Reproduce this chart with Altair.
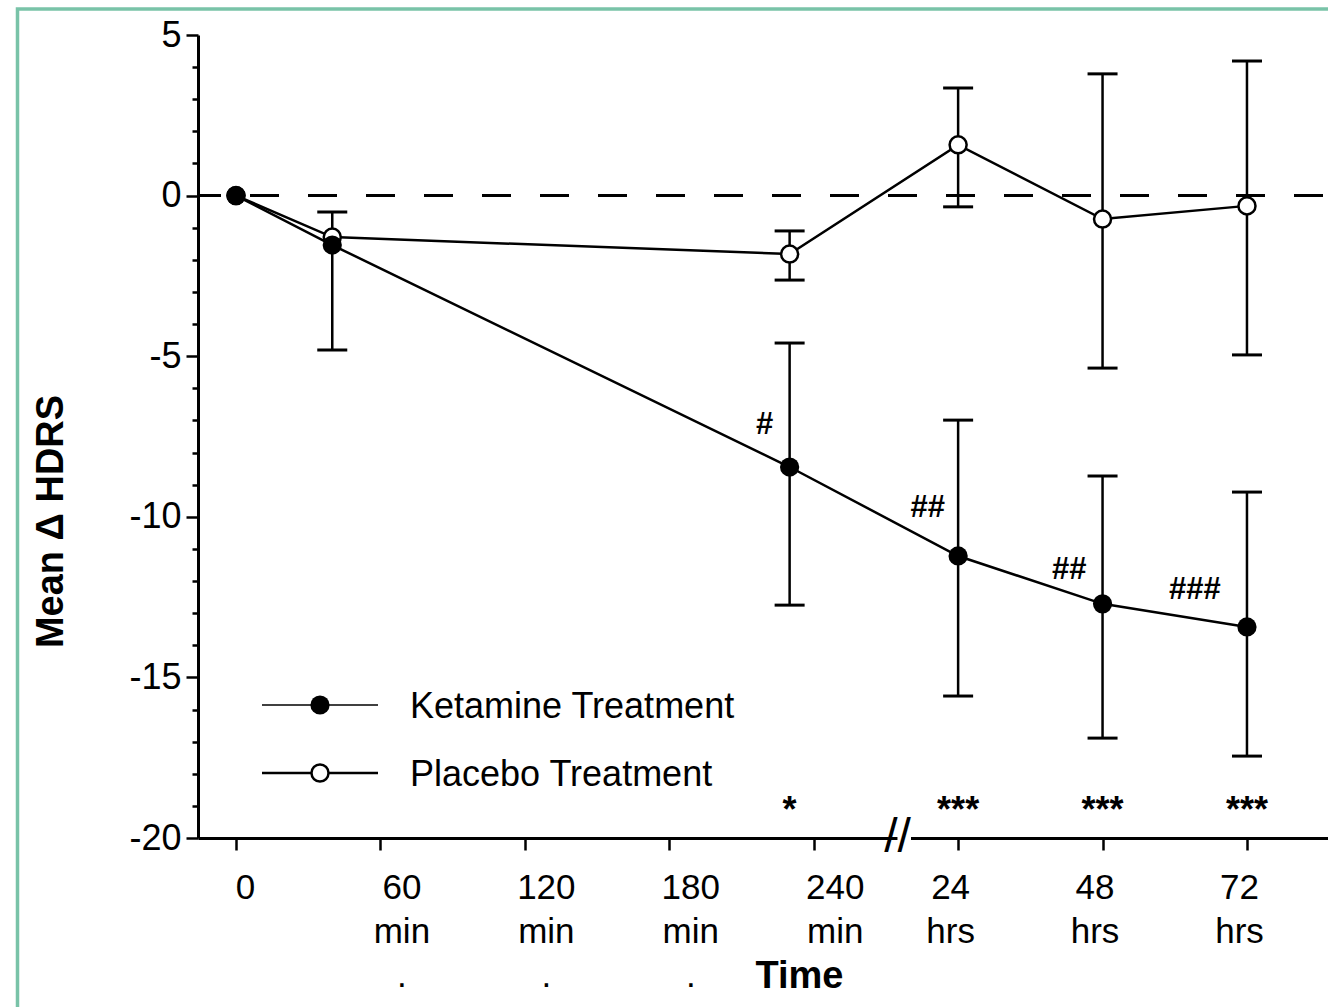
import altair as alt
import pandas as pd

FONT = "Liberation Sans"

# ---- data -------------------------------------------------------------
series = ["Ketamine Treatment", "Placebo Treatment"]
time_labels = ["0", "40 min", "230 min", "24 hrs", "48 hrs", "72 hrs"]
# position on the time axis: one step per 60 min before the break, one step per 24 hrs after it
time_pos = [0, 40 / 60, 230 / 60, 5, 6, 7]

ketamine_mean = [0.0, -1.54, -8.45, -11.22, -12.71, -13.43]
ketamine_upper = [None, None, -4.59, -6.99, -8.73, -9.23]
ketamine_lower = [None, -4.81, -12.75, -15.58, -16.89, -17.45]

placebo_mean = [0.0, -1.29, -1.82, 1.58, -0.73, -0.32]
placebo_upper = [None, -0.51, -1.10, 3.35, 3.79, 4.19]
placebo_lower = [None, None, -2.63, -0.35, -5.37, -4.96]

# significance marks: "#" within-group change, "*" ketamine vs placebo
hash_text = ["#", "##", "##", "###"]
hash_pos = [3.66, 4.79, 5.77, 6.64]
hash_val = [-7.14, -9.73, -11.66, -12.28]
star_text = ["*", "***", "***", "***"]
star_pos = [230 / 60, 5, 6, 7]

# x tick labels (one list of lines per tick)
tick_lines = [
    ["0"],
    ["60", "min", "."],
    ["120", "min", "."],
    ["180", "min", "."],
    ["240", "min"],
    ["24", "hrs"],
    ["48", "hrs"],
    ["72", "hrs"],
]

# ---- tables -----------------------------------------------------------
def series_frame(name, mean, upper, lower):
    rows = []
    for lab, p, m, u, l in zip(time_labels, time_pos, mean, upper, lower):
        rows.append({"series": name, "time": lab, "pos": p, "mean": m,
                     "hi": m if u is None else u, "lo": m if l is None else l,
                     "has_hi": u is not None, "has_lo": l is not None})
    return pd.DataFrame(rows)

ket = series_frame(series[0], ketamine_mean, ketamine_upper, ketamine_lower)
pla = series_frame(series[1], placebo_mean, placebo_upper, placebo_lower)
both = pd.concat([ket, pla], ignore_index=True)

ket_pts_df = ket.assign(val=ket["mean"])
pla_pts_df = pla.assign(val=pla["mean"])

bars = both[both["has_hi"] | both["has_lo"]].assign(val=lambda d: d["lo"], val2=lambda d: d["hi"])
caps = pd.concat([
    both[both["has_hi"]].assign(val=lambda d: d["hi"]),
    both[both["has_lo"]].assign(val=lambda d: d["lo"]),
])[["pos", "val"]]

hashes = pd.DataFrame({"pos": hash_pos, "val": hash_val, "txt": hash_text})
stars = pd.DataFrame({"pos": star_pos, "txt": star_text})

# ---- scales & axes ----------------------------------------------------
label_expr = "[" + ",".join(
    "[" + ",".join("'" + s + "'" for s in lines) + "]" for lines in tick_lines
) + "][datum.value]"

x_axis = alt.Axis(
    values=list(range(8)), labelExpr=label_expr, labelAngle=0,
    labelAlign="center", labelBaseline="top", labelFont=FONT, labelFontSize=35,
    labelColor="black", labelLineHeight=44, labelPadding=20,
    labelOffset={"condition": [{"test": "datum.value == 0", "value": 9},
                               {"test": "datum.value <= 4", "value": 21}],
                 "value": -8},
    labelOverlap=False, labelFlush=False,
    tickSize=12, tickWidth=2.5, tickColor="black",
    domainColor="black", domainWidth=3, grid=False,
    title="Time", titleFont=FONT, titleFontSize=38, titleFontWeight="bold",
    titleColor="black", titleX=601, titleY=149, titleAlign="center",
    titleBaseline="alphabetic",
)

y_axis = alt.Axis(
    values=list(range(-20, 6)),
    labelExpr="datum.value % 5 == 0 ? '' + datum.value : ''",
    labelFont=FONT, labelFontSize=36, labelColor="black", labelPadding=5,
    labelOverlap=False, labelFlush=False,
    tickSize={"condition": {"test": "datum.value % 5 == 0", "value": 12}, "value": 6},
    tickWidth=2.5, tickColor="black",
    domainColor="black", domainWidth=3, grid=False,
    title="Mean \u0394 HDRS", titleFont=FONT, titleFontSize=38,
    titleFontWeight="bold", titleColor="black", titleAngle=270,
    titleX=-136, titleY=486, titleAlign="center", titleBaseline="alphabetic",
)

X = alt.X("pos:Q", scale=alt.Scale(domain=[-0.263, 7.561], nice=False, zero=False), axis=x_axis)
Y = alt.Y("val:Q", scale=alt.Scale(domain=[-20, 5], nice=False, zero=False), axis=y_axis)

# ---- layers -----------------------------------------------------------
frame = alt.Chart(pd.DataFrame({"k": [0]})).mark_rect(
    fillOpacity=0, stroke="#79c3a8", strokeWidth=3.5
).encode(x=alt.value(-180.5), y=alt.value(-26), x2=alt.value(1150), y2=alt.value(1000))

zero_line = alt.Chart(pd.DataFrame({"val": [0.0]})).mark_rule(
    color="black", strokeWidth=3, strokeDash=[29, 29], strokeDashOffset=53
).encode(y=Y)

err_lines = alt.Chart(bars).mark_rule(color="black", strokeWidth=2.5).encode(
    x=X, y=Y, y2="val2:Q"
)
err_caps = alt.Chart(caps).mark_tick(
    orient="horizontal", color="black", size=30, thickness=3, opacity=1
).encode(x=X, y=Y)

pla_line = alt.Chart(pla_pts_df).mark_line(color="black", strokeWidth=2.5).encode(x=X, y=Y)
ket_line = alt.Chart(ket_pts_df).mark_line(color="black", strokeWidth=2.5).encode(x=X, y=Y)

pla_pts = alt.Chart(pla_pts_df).mark_circle(
    size=290, fill="white", stroke="black", strokeWidth=2.5, opacity=1
).encode(x=X, y=Y)
ket_pts = alt.Chart(ket_pts_df).mark_circle(size=370, color="black", opacity=1).encode(x=X, y=Y)

hash_layer = alt.Chart(hashes).mark_text(
    font=FONT, fontSize=31, fontWeight="bold", color="black", baseline="middle"
).encode(x=X, y=Y, text="txt:N")

star_layer = alt.Chart(stars).mark_text(
    font=FONT, fontSize=36, fontWeight="bold", color="black", baseline="alphabetic"
).encode(x=X, y=alt.value(787), text="txt:N")

axis_break = alt.Chart(pd.DataFrame({"pos": [4.58], "val": [-20.0]}))
break_gap = axis_break.mark_rule(color="white", strokeWidth=7).encode(
    x=X, x2=alt.value(713), y=Y
)
break_mark = axis_break.mark_text(
    text="//", font=FONT, fontSize=48, color="black", baseline="middle"
).encode(x=X, y=Y)

# legend drawn inside the plot, lower left
legend_df = pd.DataFrame({"series": series})
legend_layers = []
for i, name in enumerate(series):
    row = alt.Chart(legend_df).transform_filter(alt.datum.series == name)
    ly = [670, 738][i]
    legend_layers.append(
        row.mark_rule(color="black", strokeWidth=1.6 if i == 0 else 2.5).encode(
            x=alt.value(64), x2=alt.value(180), y=alt.value(ly))
    )
    if i == 0:
        legend_layers.append(row.mark_circle(size=370, color="black", opacity=1).encode(
            x=alt.value(122), y=alt.value(ly)))
    else:
        legend_layers.append(row.mark_circle(
            size=290, fill="white", stroke="black", strokeWidth=2.5, opacity=1
        ).encode(x=alt.value(122), y=alt.value(ly)))
    legend_layers.append(row.mark_text(
        font=FONT, fontSize=36, color="black", align="left", baseline="middle"
    ).encode(x=alt.value(212), y=alt.value(ly + 2), text="series:N"))

chart = alt.layer(
    frame, zero_line, err_lines, err_caps, pla_line, ket_line, pla_pts, ket_pts,
    hash_layer, star_layer, break_gap, break_mark, *legend_layers,
).properties(
    width=1130, height=803,
    autosize=alt.AutoSizeParams(type="none"),
    padding={"left": 198, "top": 35, "right": 0, "bottom": 169},
    background="white",
).configure(font=FONT).configure_view(stroke=None, strokeWidth=0)

chart.save("out.html", embed_options={"renderer": "svg", "actions": False})
